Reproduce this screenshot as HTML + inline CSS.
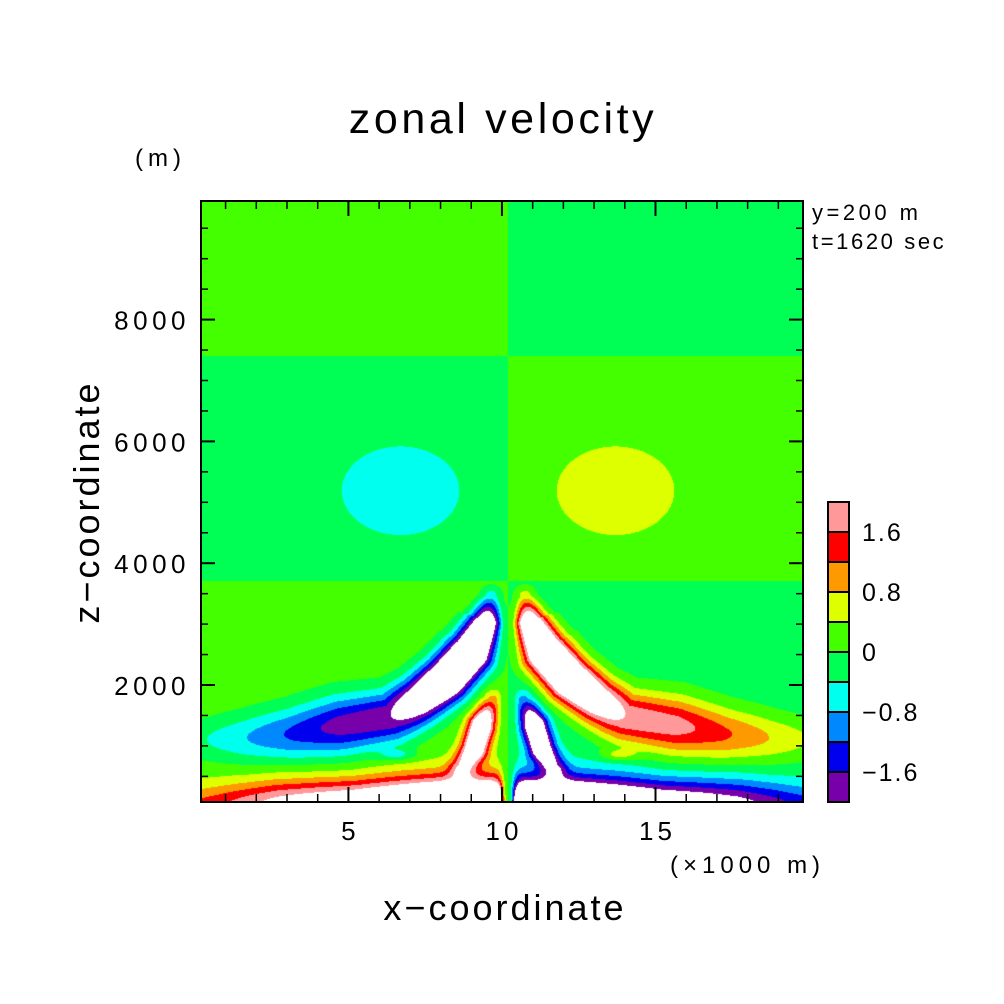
<!DOCTYPE html>
<html><head><meta charset="utf-8"><style>
body{margin:0;background:#fff;width:1004px;height:1004px;overflow:hidden;position:relative;font-family:"Liberation Sans",sans-serif}
#field{position:absolute;left:201px;top:201px}
svg{position:absolute;left:0;top:0}
text{font-family:"Liberation Sans",sans-serif;fill:#000}
</style></head><body>
<canvas id="field" width="602" height="601"></canvas>
<svg id="chart" width="1004" height="1004">
<text x="503" y="133" font-size="43" letter-spacing="3.6" text-anchor="middle">zonal velocity</text>
<text x="135" y="166" font-size="24" letter-spacing="5">(m)</text>
<text x="812" y="220" font-size="22" letter-spacing="3.5" fill="#222">y=200 m</text>
<text x="812" y="249" font-size="22" letter-spacing="2.6" fill="#222">t=1620 sec</text>
<text x="670" y="873" font-size="24" letter-spacing="5">(×1000 m)</text>
<text x="505" y="920" font-size="36" letter-spacing="3" text-anchor="middle">x−coordinate</text>
<text x="0" y="0" font-size="36" letter-spacing="3" text-anchor="middle" transform="translate(99,502) rotate(-90)">z−coordinate</text>
<g id="axes"></g>
<rect x="201" y="201" width="602" height="601" fill="none" stroke="#000" stroke-width="2"/>
<g id="cbar"></g>
</svg>
<script>
// ---- data ----
const xTicksMajor = [5, 10, 15];
const xTickLabels = ["5", "10", "15"];
const yTicksMajor = [2000, 4000, 6000, 8000];
const yTickLabels = ["2000", "4000", "6000", "8000"];
const levels = [-2.0, -1.6, -1.2, -0.8, -0.4, 0, 0.4, 0.8, 1.2, 1.6, 2.0];
const levelColors = ["#7700aa","#0000ee","#0088ff","#00ffee","#00ff55","#44ff00","#ddff00","#ff9900","#ff0000","#ff9999"];
const cbarLabels = ["1.6", "0.8", "0", "−0.8", "−1.6"];
const cbarLabelValues = [1.6, 0.8, 0, -0.8, -1.6];
const centerX = 10.2;
// background layers (right-side sign), z boundaries in m
const bandEdges = [3700, 7400];
const bandValues = [-0.2, 0.2, -0.2];
// ridges (right side; left mirrored with opposite sign): d km from centre, z m, amplitude, width km
const upperLobeD = [0.55, 0.7, 1.2, 2.0, 2.9, 3.8, 5.5, 7.0, 8.5, 9.8];
const upperLobeZ = [3450, 3050, 2550, 2100, 1750, 1480, 1330, 1200, 1130, 1100];
const upperLobeAmp = [0.8, 3.2, 4.2, 4.2, 3.2, 2.2, 2.0, 1.5, 1.0, 0.6];
const upperLobeW = [0.35, 0.55, 0.7, 0.72, 0.75, 0.85, 0.95, 0.88, 0.8, 0.7];
const lowerLobeD = [0.5, 0.85, 1.1, 1.5];
const lowerLobeZ = [1750, 1350, 950, 650];
const lowerLobeAmp = [-0.8, -3.2, -3.0, -1.5];
const lowerLobeW = [0.35, 0.42, 0.42, 0.4];
const surfaceD = [0.6, 1.0, 2.0, 3.5, 5.0, 6.5, 7.5, 8.5, 9.5, 10.2];
const surfaceZ = [0, 0, 0, 0, 0, 0, 0, 0, 0, 0];
const surfaceAmp = [-4.5, -4.5, -4.3, -3.5, -2.8, -2.4, -2.1, -1.7, -1.3, -1.1];
const surfaceW = [0.9, 0.9, 0.92, 0.9, 0.85, 0.85, 0.85, 0.8, 0.75, 0.7];
// blobs
const blobD = [3.5, 3.6];
const blobZ = [5190, 850];
const blobAmp = [0.5, 0.6];
const blobSx = [2.0, 0.6];
const blobSz = [760, 90];

// ---- axes functions ----
const xPx = v => 201 + (v - 0.2) * 30.71;
const zPx = v => 685 - (v - 2000) * 0.0609;
const KM = 30.71;
const NS = "http://www.w3.org/2000/svg";
function mk(tag, attrs, parent){const e=document.createElementNS(NS,tag);for(const k in attrs)e.setAttribute(k,attrs[k]);parent.appendChild(e);return e;}

// ---- field ----
const xcPx = xPx(centerX);
const ridges = [[upperLobeD,upperLobeZ,upperLobeAmp,upperLobeW],[lowerLobeD,lowerLobeZ,lowerLobeAmp,lowerLobeW],[surfaceD,surfaceZ,surfaceAmp,surfaceW]].map(r=>({
  x:r[0].map(d=>d*KM), y:r[1].map(z=>zPx(z)), a:r[2], w:r[3]
}));
function ridgeVal(r, dx, py){
  let best=1e18, A=0, W=1;
  for(let i=0;i<r.x.length-1;i++){
    const ax=r.x[i], ay=r.y[i], bx=r.x[i+1], by=r.y[i+1];
    const vx=bx-ax, vy=by-ay, L2=vx*vx+vy*vy;
    let t=((dx-ax)*vx+(py-ay)*vy)/L2; t=Math.max(0,Math.min(1,t));
    const qx=ax+t*vx-dx, qy=ay+t*vy-py, dd=qx*qx+qy*qy;
    if(dd<best){best=dd;A=r.a[i]+(r.a[i+1]-r.a[i])*t;W=r.w[i]+(r.w[i+1]-r.w[i])*t;}
  }
  const rk=Math.sqrt(best)/KM/W;
  return A*Math.exp(-rk*rk);
}
const cv=document.getElementById('field'), ctx=cv.getContext('2d');
const img=ctx.createImageData(602,601);
const rgb=levelColors.map(c=>[parseInt(c.substr(1,2),16),parseInt(c.substr(3,2),16),parseInt(c.substr(5,2),16)]);
for(let j=0;j<601;j++){
  const py=201+j+0.5, z=2000+(685-py)/0.0609;
  let bg=bandValues[0]; if(z>bandEdges[0])bg=bandValues[1]; if(z>bandEdges[1])bg=bandValues[2];
  for(let i=0;i<602;i++){
    const px=201+i+0.5, dxp=Math.abs(px-xcPx), d=dxp/KM;
    let g=bg;
    for(const r of ridges) g+=ridgeVal(r,dxp,py);
    for(let b=0;b<blobD.length;b++){const u=(d-blobD[b])/blobSx[b], v=(z-blobZ[b])/blobSz[b]; g+=blobAmp[b]*Math.exp(-u*u-v*v);}
    const taper=1-Math.exp(-(d/0.22)*(d/0.22));
    const s=px>=xcPx?1:-1;
    const u=s*g*(Math.abs(g)>0.3?taper:1);
    const k=(j*602+i)*4;
    let c=[255,255,255];
    if(u>=levels[0]&&u<levels[10]){c=rgb[Math.min(9,Math.floor((u-levels[0])/0.4))];}
    img.data[k]=c[0];img.data[k+1]=c[1];img.data[k+2]=c[2];img.data[k+3]=255;
  }
}
ctx.putImageData(img,0,0);

// ---- axes ----
const ax=document.getElementById('axes');
for(let v=1;v<=19;v++){
  const major=xTicksMajor.includes(v), L=major?15:8, x=xPx(v);
  let t=mk('line',{x1:x,x2:x,y1:802,y2:802-L,stroke:'#000','stroke-width':major?2:1.5},ax);
   
  t=mk('line',{x1:x,x2:x,y1:201,y2:201+L,stroke:'#000','stroke-width':major?2:1.5},ax);
   
}
xTicksMajor.forEach((v,i)=>{
  const t=mk('text',{x:xPx(v)+2,y:840,'font-size':26,'letter-spacing':4,'text-anchor':'middle'},ax); t.textContent=xTickLabels[i];
   
});
for(let v=500;v<=9500;v+=500){
  const major=yTicksMajor.includes(v), L=major?14:7, y=zPx(v);
  let t=mk('line',{x1:201,x2:201+L,y1:y,y2:y,stroke:'#000','stroke-width':major?2:1.5},ax);
   
  t=mk('line',{x1:803,x2:803-L,y1:y,y2:y,stroke:'#000','stroke-width':major?2:1.5},ax);
   
}
yTicksMajor.forEach((v,i)=>{
  const t=mk('text',{x:190,y:zPx(v)+10,'font-size':26,'letter-spacing':4.5,'text-anchor':'end'},ax); t.textContent=yTickLabels[i];
   
});
// ---- colorbar ----
const cb=document.getElementById('cbar');
const cbY = v => 652 - v*75;
for(let i=0;i<10;i++){
  const r=mk('rect',{x:828,y:cbY(levels[i+1]),width:21,height:cbY(levels[i])-cbY(levels[i+1]),fill:levelColors[i],stroke:'#000','stroke-width':2},cb);
   
}
cbarLabelValues.forEach((v,i)=>{
  const t=mk('text',{x:862,y:cbY(v)+9,'font-size':25,'letter-spacing':2},cb); t.textContent=cbarLabels[i];
   
});
</script>
</body></html>
